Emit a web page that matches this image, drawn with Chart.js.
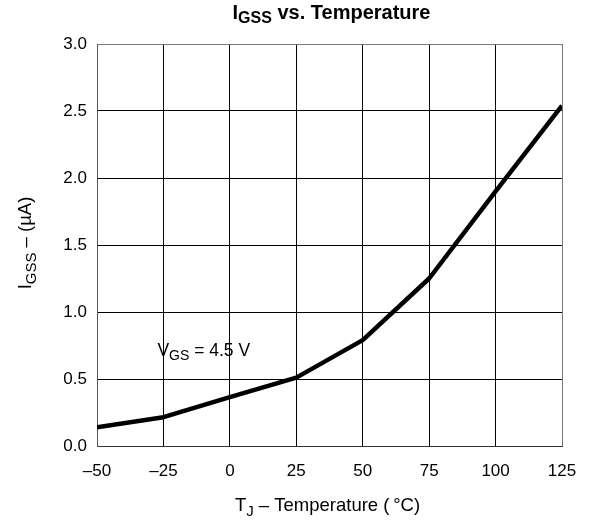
<!DOCTYPE html>
<html>
<head>
<meta charset="utf-8">
<script src="https://cdn.jsdelivr.net/npm/chart.js@4.4.1/dist/chart.umd.min.js"></script>
<style>
  html, body { margin: 0; padding: 0; background: #fff; }
  #wrap { width: 595px; height: 524px; }
</style>
</head>
<body>
<div id="wrap"><canvas id="c" width="595" height="524"></canvas></div>
<script>
// Junction temperature (°C) and gate leakage current IGSS (µA)
const temperatures = [-50, -25, 0, 25, 50, 75, 100, 125];
const igssValues   = [0.14, 0.215, 0.365, 0.51, 0.79, 1.25, 1.90, 2.54];
const xTicks = [-50, -25, 0, 25, 50, 75, 100, 125];
const yTicks = [0.0, 0.5, 1.0, 1.5, 2.0, 2.5, 3.0];

const FONT = '"Liberation Sans", Arial, sans-serif';

// Draw a run of text pieces, some of them as subscripts, starting or centred at (x, cy)
function drawRich(ctx, parts, x0, cy, size, bold, align) {
  const w = bold ? 'bold ' : '';
  const subSize = Math.round(size * 0.8);
  let total = 0;
  parts.forEach(p => {
    ctx.font = w + (p.sub ? subSize : size) + 'px ' + FONT;
    p.w = ctx.measureText(p.t).width;
    total += p.w;
  });
  let x = align === 'left' ? x0 : x0 - total / 2;
  ctx.textBaseline = 'middle';
  ctx.textAlign = 'left';
  parts.forEach(p => {
    ctx.font = w + (p.sub ? subSize : size) + 'px ' + FONT;
    ctx.fillText(p.t, x, cy + (p.sub ? size * 0.3 : 0));
    x += p.w;
  });
}

const labelsPlugin = {
  id: 'richLabels',
  afterDraw(chart) {
    const ctx = chart.ctx;
    const a = chart.chartArea;
    const xs = chart.scales.x, ys = chart.scales.y;
    ctx.save();
    ctx.fillStyle = '#000';
    // title
    drawRich(ctx, [{t: 'I'}, {t: 'GSS', sub: true}, {t: ' vs. Temperature'}],
      (a.left + a.right) / 2 + 2, 13, 20, true);
    // x axis title
    drawRich(ctx, [{t: 'T'}, {t: 'J', sub: true}, {t: ' \u2013 Temperature (\u2009\u00B0C)'}],
      (a.left + a.right) / 2 - 2, 506, 18.5, false);
    // y axis title (rotated)
    ctx.save();
    ctx.translate(26, (a.top + a.bottom) / 2 - 2);
    ctx.rotate(-Math.PI / 2);
    drawRich(ctx, [{t: 'I'}, {t: 'GSS', sub: true}, {t: ' \u2013 (\u00B5A)'}], 0, 0, 18.5, false);
    ctx.restore();
    // condition label inside plot
    const px = xs.getPixelForValue(-25) - 6;
    const py = ys.getPixelForValue(0.71);
    drawRich(ctx, [{t: 'V'}, {t: 'GS', sub: true}, {t: ' = 4.5 V'}], px, py, 17.5, false, 'left');
    ctx.restore();
  }
};

new Chart(document.getElementById('c'), {
  type: 'line',
  data: {
    datasets: [{
      data: temperatures.map((t, i) => ({x: t, y: igssValues[i]})),
      borderColor: '#000',
      borderWidth: 4.5,
      pointRadius: 0,
      tension: 0,
      fill: false,
      borderJoinStyle: 'round',
      borderCapStyle: 'butt'
    }]
  },
  options: {
    responsive: false,
    animation: false,
    devicePixelRatio: 1,
    layout: { padding: { left: 0, top: 44, right: 33, bottom: 0 } },
    plugins: { legend: { display: false }, tooltip: { enabled: false } },
    scales: {
      x: {
        type: 'linear',
        min: -50, max: 125,
        afterBuildTicks(s) { s.ticks = xTicks.map(v => ({value: v})); },
        afterFit(s) { s.height = 78; },
        ticks: {
          padding: 15,
          color: '#000',
          font: { family: FONT, size: 17 },
          callback: v => String(v).replace('-', '\u2013')
        },
        grid: {
          drawTicks: false,
          color: ctx => (ctx.tick && ctx.tick.value === 125) ? '#777' : '#000',
          lineWidth: 1
        },
        border: { color: '#333', width: 1 }
      },
      y: {
        type: 'linear',
        min: 0, max: 3,
        afterBuildTicks(s) { s.ticks = yTicks.map(v => ({value: v})); },
        afterFit(s) { s.width = 97; },
        ticks: {
          padding: 10,
          color: '#000',
          font: { family: FONT, size: 17 },
          callback: v => Number(v).toFixed(1)
        },
        grid: {
          drawTicks: false,
          color: ctx => (ctx.tick && ctx.tick.value === 3) ? '#777' : '#000',
          lineWidth: 1
        },
        border: { color: '#555', width: 1 }
      }
    }
  },
  plugins: [labelsPlugin]
});
</script>
</body>
</html>
